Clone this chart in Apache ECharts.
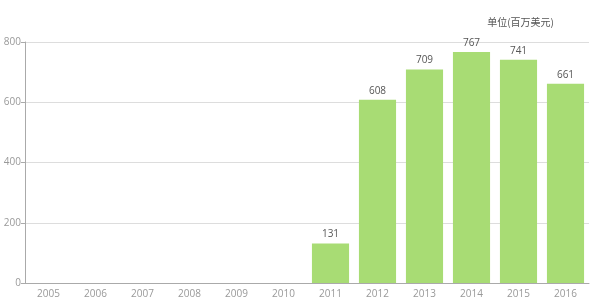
<!DOCTYPE html>
<html><head><meta charset="utf-8">
<script src="https://cdn.jsdelivr.net/npm/echarts@6/dist/echarts.min.js"></script>
<style>html,body{margin:0;padding:0;background:#fff}#c{width:604px;height:305px}</style>
</head><body><div id="c"></div>
<script>
var years = ['2005','2006','2007','2008','2009','2010','2011','2012','2013','2014','2015','2016'];
var values = [null,null,null,null,null,null,131,608,709,767,741,661];
var unitLabel = '单位(百万美元)';
var chart = echarts.init(document.getElementById('c'));
chart.setOption({
  animation:false,
  title:{text:unitLabel,right:45,top:12,textStyle:{fontSize:10,fontWeight:'normal',color:'#555',fontFamily:'Noto Sans CJK SC'}},
  grid:{left:25,right:15,top:42,bottom:22},
  xAxis:{type:'category',data:years,
    axisLine:{lineStyle:{color:'#aaa'}},
    axisTick:{alignWithLabel:true,lineStyle:{color:'#aaa'}},
    axisLabel:{color:'#999',fontSize:10,margin:6,fontFamily:'Open Sans'}},
  yAxis:{type:'value',min:0,max:800,interval:200,
    axisLine:{show:true,lineStyle:{color:'#aaa'}},
    axisTick:{show:true,length:4,lineStyle:{color:'#aaa'}},
    axisLabel:{color:'#999',fontSize:10,margin:4,fontFamily:'Open Sans'},
    splitLine:{lineStyle:{color:'#ddd'}}},
  series:[{type:'bar',data:values,barWidth:'79%',
    itemStyle:{color:'#a8dc74'},
    label:{show:true,position:'top',color:'#555',fontSize:10,distance:4,fontFamily:'Open Sans'}}]
});
</script></body></html>
